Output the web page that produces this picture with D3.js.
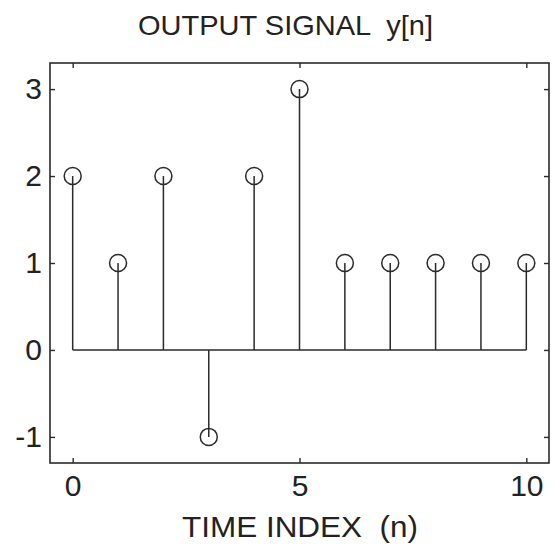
<!DOCTYPE html>
<meta charset="utf-8">
<script src="https://cdn.jsdelivr.net/npm/d3@7"></script>
<style>
body { margin: 0; background: #fff; }
text { font-family: "Liberation Sans", Arial, Helvetica, sans-serif; fill: #222; }
</style>
<body>
<script>
// signal samples
var nIndex = [0, 1, 2, 3, 4, 5, 6, 7, 8, 9, 10];
var yValues = [2, 1, 2, -1, 2, 3, 1, 1, 1, 1, 1];
var xTicks = [0, 5, 10];
var yTicks = [-1, 0, 1, 2, 3];

var width = 555, height = 549,
    box = {left: 50, right: 549, top: 63, bottom: 463},
    ink = "#2a2a2a",
    tick_len = 5;

var svg = d3.select("body").append("svg")
    .attr("width", width)
    .attr("height", height);

var x = d3.scaleLinear().domain([-0.5, 10.5]).range([box.left, box.right]);
var y = d3.scaleLinear().domain([-1.3, 3.3]).range([box.bottom, box.top]);

// frame
svg.append("rect")
    .attr("x", box.left).attr("y", box.top)
    .attr("width", box.right - box.left).attr("height", box.bottom - box.top)
    .attr("fill", "none").attr("stroke", ink).attr("stroke-width", 1.6);

// axes with inward ticks
function styleAxis(g) {
    g.select(".domain").remove();
    g.selectAll(".tick line").attr("stroke", ink).attr("stroke-width", 1.4);
    g.selectAll(".tick text").style("font-size", "30px").attr("fill", "#222");
}
var plain = function(d) { return String(d); };   // hyphen minus like the print

svg.append("g")
    .attr("transform", "translate(0," + box.bottom + ")")
    .call(d3.axisBottom(x).tickValues(xTicks).tickFormat(plain).tickSizeInner(-tick_len).tickSizeOuter(0).tickPadding(12))
    .call(styleAxis);

svg.append("g")
    .attr("transform", "translate(0," + box.top + ")")
    .call(d3.axisTop(x).tickValues(xTicks).tickSizeInner(-tick_len).tickSizeOuter(0).tickFormat(""))
    .call(styleAxis);

svg.append("g")
    .attr("transform", "translate(" + box.left + ",0)")
    .call(d3.axisLeft(y).tickValues(yTicks).tickFormat(plain).tickSizeInner(-tick_len).tickSizeOuter(0).tickPadding(8))
    .call(styleAxis);

svg.append("g")
    .attr("transform", "translate(" + box.right + ",0)")
    .call(d3.axisRight(y).tickValues(yTicks).tickSizeInner(-tick_len).tickSizeOuter(0).tickFormat(""))
    .call(styleAxis);

// baseline
svg.append("line")
    .attr("x1", x(d3.min(nIndex))).attr("x2", x(d3.max(nIndex)))
    .attr("y1", y(0)).attr("y2", y(0))
    .attr("stroke", ink).attr("stroke-width", 1.6);

var pts = nIndex.map(function(n, i) { return {n: n, v: yValues[i]}; });

// stems
svg.selectAll(".stem").data(pts).enter().append("line")
    .attr("class", "stem")
    .attr("x1", function(d) { return x(d.n); })
    .attr("x2", function(d) { return x(d.n); })
    .attr("y1", y(0))
    .attr("y2", function(d) { return y(d.v); })
    .attr("stroke", ink).attr("stroke-width", 1.5);

// markers
svg.selectAll(".mark").data(pts).enter().append("circle")
    .attr("class", "mark")
    .attr("cx", function(d) { return x(d.n); })
    .attr("cy", function(d) { return y(d.v); })
    .attr("r", 8.5)
    .attr("fill", "none").attr("stroke", ink).attr("stroke-width", 1.5);

// titles
svg.append("text")
    .attr("x", 138).attr("y", 35)
    .style("font-size", "28px")
    .attr("xml:space", "preserve")
    .attr("textLength", 295).attr("lengthAdjust", "spacingAndGlyphs")
    .text("OUTPUT SIGNAL  y[n]");

svg.append("text")
    .attr("x", 182).attr("y", 537)
    .style("font-size", "30px")
    .attr("xml:space", "preserve")
    .attr("textLength", 236).attr("lengthAdjust", "spacingAndGlyphs")
    .text("TIME INDEX  (n)");
</script>
</body>
